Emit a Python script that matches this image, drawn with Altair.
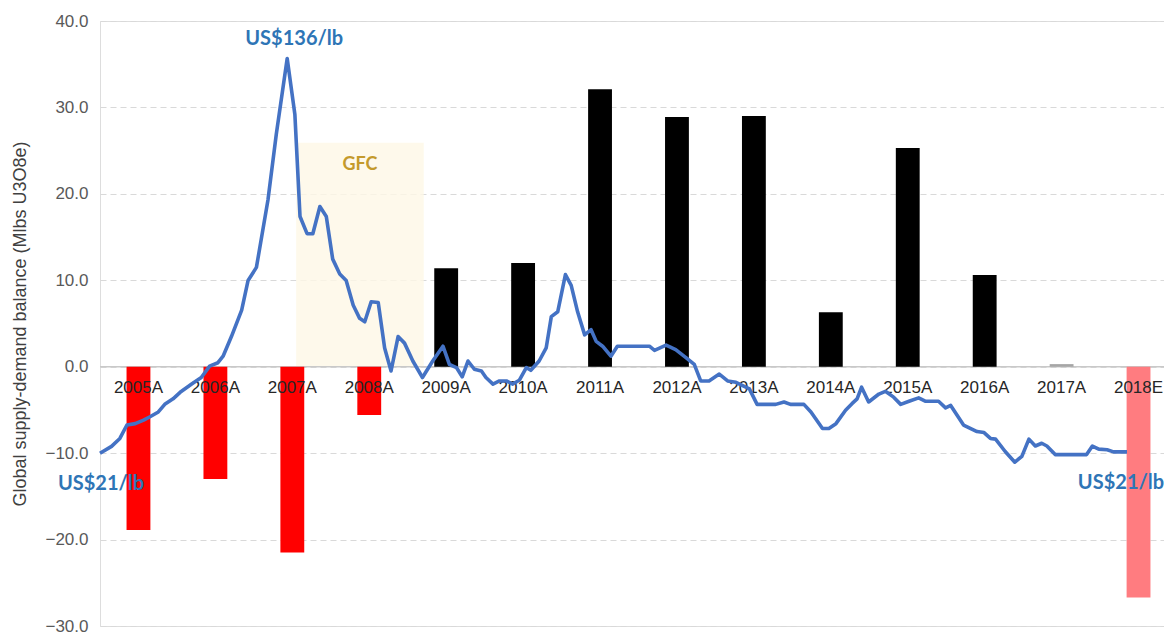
import altair as alt
import pandas as pd

# ---------------- data ----------------
categories = ["2005A", "2006A", "2007A", "2008A", "2009A", "2010A", "2011A",
              "2012A", "2013A", "2014A", "2015A", "2016A", "2017A", "2018E"]
balance = [-18.9, -13.0, -21.5, -5.6, 11.4, 12.0, 32.1, 28.9, 29.0, 6.3,
           25.3, 10.6, 0.3, -26.7]
bar_colors = ["#FF0000", "#FF0000", "#FF0000", "#FF0000", "#000000", "#000000",
              "#000000", "#000000", "#000000", "#000000", "#000000", "#000000",
              "#A6A6A6", "#FF7C80"]

# uranium spot price (US$/lb), months since Jan 2005
price_month = [0, 1.8, 3.1, 4.2, 5.5, 6.8, 7.8, 9.1, 10.1, 11.4,
               12.5, 14.3, 15.8, 17.1, 18.4, 19.2, 20.5, 22.1, 23.1, 24.4,
               26.2, 27.5, 29.2, 30.4, 31.2, 32.3, 33.2, 34.3, 35.3, 36.3,
               37.4, 38.4, 39.5, 40.5, 41.3, 42.3, 43.4, 44.4, 45.4, 46.5,
               47.5, 48.8, 50.3, 51.9, 53.5, 54.5, 55.6, 56.5, 57.4, 58.4,
               59.5, 60.2, 61.3, 62.3, 63.4, 64.4, 65.4, 66.5, 67.2, 68.5,
               69.6, 70.4, 71.4, 72.6, 73.5, 74.5, 75.6, 76.6, 77.4, 78.4,
               79.7, 80.7, 83.1, 85.7, 86.5, 88.3, 89.8, 91.4, 92.7, 93.7,
               95.0, 96.6, 97.9, 99.2, 101.3, 102.5, 105.4, 106.7, 107.7, 109.8,
               110.9, 112.7, 113.7, 114.8, 116.3, 117.3, 118.1, 118.8, 119.9, 121.5,
               122.5, 123.8, 124.9, 126.2, 127.7, 128.8, 130.8, 131.9, 132.7, 134.7,
               136.8, 137.9, 138.9, 139.7, 141.2, 142.7, 143.8, 144.9, 145.9, 146.9,
               147.7, 149.0, 153.9, 154.8, 155.8, 157.1, 158.1, 160.2]
price_usd = [21.3, 23.3, 25.6, 29.5, 29.9, 30.9, 31.9, 33.3, 35.5, 37.1,
             39.0, 41.4, 43.3, 46.6, 47.6, 49.5, 55.2, 62.9, 71.5, 75.3,
             94.9, 114.0, 136.0, 119.7, 90.1, 85.1, 85.1, 93.0, 90.1, 77.7,
             73.4, 71.5, 64.3, 60.5, 59.5, 65.3, 65.1, 51.9, 45.2, 55.2,
             53.3, 48.1, 43.3, 48.1, 52.4, 47.1, 46.2, 43.5, 48.1, 45.7,
             45.2, 43.3, 41.4, 42.3, 42.3, 41.4, 42.5, 46.2, 45.4, 48.1,
             51.9, 61.0, 62.4, 73.2, 70.1, 62.4, 55.7, 57.2, 53.8, 52.4,
             49.5, 52.4, 52.4, 52.4, 51.2, 52.7, 51.4, 49.1, 47.1, 42.3,
             42.3, 44.3, 42.3, 41.9, 40.0, 35.5, 35.5, 36.2, 35.5, 35.5,
             33.3, 28.5, 28.5, 29.9, 33.8, 35.7, 37.1, 40.5, 36.2, 38.5,
             39.3, 37.6, 35.5, 36.4, 37.4, 36.4, 36.4, 34.5, 35.2, 29.5,
             27.6, 27.3, 25.6, 25.4, 21.8, 18.7, 20.4, 25.4, 23.4, 24.2,
             23.4, 20.9, 20.9, 23.4, 22.5, 22.3, 21.7, 21.7]

# GFC period (months since Jan 2005) and shaded height
gfc_start = [30.6]
gfc_end = [50.5]
gfc_top = [25.9]
gfc_label = ["GFC"]

# price annotations
ann_month = [29.2, 0.0, 160.2]
ann_price = [136.0, 21.3, 21.7]
ann_text = ["US$136/lb", "US$21/lb", "US$21/lb"]

y_ticks = [-30, -20, -10, 0, 10, 20, 30, 40]

# ---------------- frames ----------------
bars_df = pd.DataFrame({"cat": categories, "bal": balance})
price_df = pd.DataFrame({"m": price_month, "p": price_usd})
gfc_df = pd.DataFrame({"s": gfc_start, "e": gfc_end, "top": gfc_top,
                       "base": [0.0], "mid": [(gfc_start[0] + gfc_end[0]) / 2],
                       "label": gfc_label})
ann_df = pd.DataFrame({"m": ann_month, "p": ann_price, "t": ann_text,
                       "k": ["peak", "start", "end"]})
zero_df = pd.DataFrame({"z": [0.0]})

W, H = 1064, 605
XR = [0, 1077]

band = alt.Scale(domain=categories, range=XR, paddingInner=0.69, paddingOuter=0.345)
ybal = alt.Scale(domain=[-30, 40], nice=False, zero=False)
xmon = alt.Scale(domain=[0, 168], range=XR, nice=False, zero=False)
yprice = alt.Scale(domain=[-28.9, 146.9], nice=False, zero=False)

gfc_rect = alt.Chart(gfc_df).mark_rect(color="#FEF8E6", opacity=0.8).encode(
    x=alt.X("s:Q", scale=xmon, axis=None),
    x2="e:Q",
    y=alt.Y("base:Q", scale=ybal, axis=None),
    y2="top:Q",
)

zero_rule = alt.Chart(zero_df).mark_rule(color="#C9C9C9", strokeWidth=1.5).encode(
    y=alt.Y("z:Q", scale=ybal, axis=None)
)

bars = alt.Chart(bars_df).mark_bar().encode(
    x=alt.X("cat:N", sort=categories, scale=band, axis=None),
    y=alt.Y("bal:Q", scale=ybal,
            axis=alt.Axis(values=y_ticks, format=".1f", grid=True,
                          gridDash=[6, 4], gridColor="#D9D9D9", gridWidth=1,
                          domain=False, ticks=False, labelPadding=12,
                          labelFont="Liberation Sans", labelFontSize=17,
                          labelColor="#595959",
                          title="Global supply-demand  balance (Mlbs U3O8e)",
                          titleFont="Liberation Sans", titleFontSize=18,
                          titleFontWeight="normal", titleColor="#404040",
                          titleX=-71, titleY=H / 2)),
    y2=alt.datum(0),
    color=alt.Color("cat:N", scale=alt.Scale(domain=categories, range=bar_colors),
                    legend=None),
)

cat_labels = alt.Chart(bars_df).mark_text(
    font="Liberation Sans", fontSize=17, color="#262626", dy=21, baseline="middle"
).encode(
    x=alt.X("cat:N", sort=categories, scale=band, axis=None),
    y=alt.Y("z:Q", scale=ybal, axis=None),
    text="cat:N",
).transform_calculate(z="0")

price_line = alt.Chart(price_df).mark_line(
    color="#4472C4", strokeWidth=3.6, strokeJoin="round"
).encode(
    x=alt.X("m:Q", scale=xmon, axis=None),
    y=alt.Y("p:Q", scale=yprice, axis=None),
)

ann_font = dict(font="Lato", fontWeight="bold", fontSize=20, color="#2E75B6",
                baseline="middle", align="center")

ann_peak = alt.Chart(ann_df).transform_filter(alt.datum.k == "peak").mark_text(
    dx=7, dy=-20, **ann_font
).encode(
    x=alt.X("m:Q", scale=xmon, axis=None),
    y=alt.Y("p:Q", scale=yprice, axis=None),
    text="t:N",
)
ann_start = alt.Chart(ann_df).transform_filter(alt.datum.k == "start").mark_text(
    dx=1, dy=31, **ann_font
).encode(
    x=alt.X("m:Q", scale=xmon, axis=None),
    y=alt.Y("p:Q", scale=yprice, axis=None),
    text="t:N",
)
ann_end = alt.Chart(ann_df).transform_filter(alt.datum.k == "end").mark_text(
    dx=-6, dy=31, **ann_font
).encode(
    x=alt.X("m:Q", scale=xmon, axis=None),
    y=alt.Y("p:Q", scale=yprice, axis=None),
    text="t:N",
)

gfc_text = alt.Chart(gfc_df).mark_text(
    font="Lato", fontWeight="bold", fontSize=18, color="#C49A2C",
    dy=22, baseline="middle", align="center"
).encode(
    x=alt.X("mid:Q", scale=xmon, axis=None),
    y=alt.Y("top:Q", scale=ybal, axis=None),
    text="label:N",
)

chart = alt.layer(
    gfc_rect, zero_rule, bars, cat_labels, price_line,
    ann_peak, ann_start, ann_end, gfc_text
).resolve_scale(
    x="independent", y="independent", color="independent"
).properties(
    width=W, height=H,
    padding={"left": 92, "top": 13, "right": 0, "bottom": 10},
    autosize=alt.AutoSizeParams(type="none"),
).configure_view(stroke=None).configure(background="white")

chart.save("out.html", embed_options={"renderer": "svg", "actions": False})
